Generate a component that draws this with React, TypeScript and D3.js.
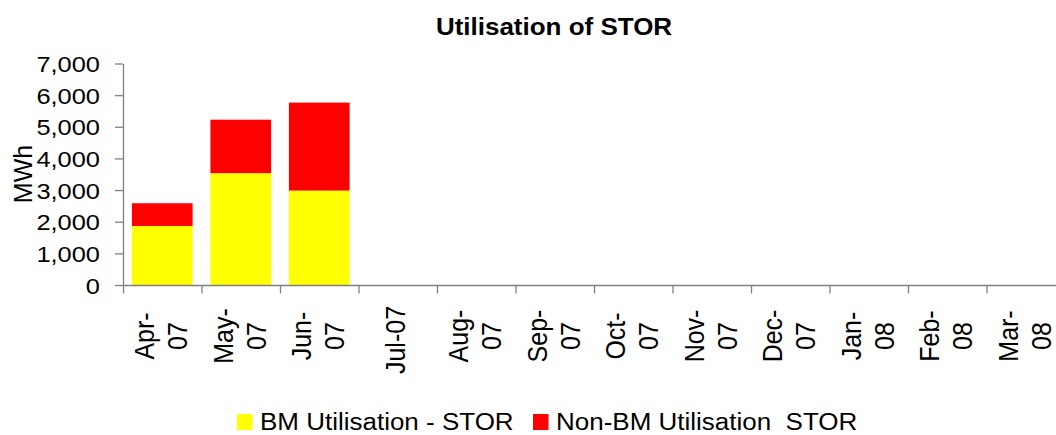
import React, { useRef, useEffect } from "react";
import * as d3 from "d3";

const months: string[][] = [
  ["Apr-", "07"], ["May-", "07"], ["Jun-", "07"], ["Jul-07"],
  ["Aug-", "07"], ["Sep-", "07"], ["Oct-", "07"], ["Nov-", "07"],
  ["Dec-", "07"], ["Jan-", "08"], ["Feb-", "08"], ["Mar-", "08"],
];
const bmUtilisation = [1880, 3550, 3000, 0, 0, 0, 0, 0, 0, 0, 0, 0];
const nonBmUtilisation = [720, 1690, 2780, 0, 0, 0, 0, 0, 0, 0, 0, 0];
const yTicks = [0, 1000, 2000, 3000, 4000, 5000, 6000, 7000];
const seriesNames = ["BM Utilisation - STOR", "Non-BM Utilisation  STOR"];
const seriesColors = ["#FFFF00", "#FF0000"];

const FONT = "'Liberation Sans', Arial, sans-serif";
const SX = 1.13; // source picture is a little stretched sideways

const App: React.FC = () => {
  const svgRef = useRef<SVGSVGElement | null>(null);

  useEffect(() => {
    const width = 1056;
    const height = 435;
    const left = 123;
    const right = 1065; // plot runs past the right edge
    const top = 64;
    const bottom = 285.5;

    const svg = d3.select(svgRef.current);
    svg.selectAll("*").remove();
    svg.attr("width", width).attr("height", height);

    const keys = months.map((m) => m.join(""));
    const rows = keys.map((k, i) => ({ key: k, bm: bmUtilisation[i], nonbm: nonBmUtilisation[i] }));

    const x = d3.scaleBand<string>()
      .domain(keys)
      .range([left, right])
      .paddingInner(0.227)
      .paddingOuter(0.1135);
    const gap = (x.step() - x.bandwidth()) / 2;

    const y = d3.scaleLinear().domain([0, 7000]).range([bottom, top]);

    const stack = d3.stack<any>().keys(["bm", "nonbm"]);
    const layers = stack(rows);

    // bars
    layers.forEach((layer, li) => {
      svg.append("g")
        .selectAll("rect")
        .data(layer)
        .join("rect")
        .attr("x", (d: any) => x(d.data.key)!)
        .attr("y", (d) => y(d[1]))
        .attr("width", x.bandwidth())
        .attr("height", (d) => Math.max(0, y(d[0]) - y(d[1])))
        .attr("fill", seriesColors[li]);
    });

    const axisColor = "#808080";

    // y axis
    const yAxis = svg.append("g");
    yAxis.append("line")
      .attr("x1", left + 0.5).attr("x2", left + 0.5)
      .attr("y1", y(7000)).attr("y2", y(0))
      .attr("stroke", axisColor).attr("stroke-width", 1.3);
    yTicks.forEach((t) => {
      yAxis.append("line")
        .attr("x1", left - 8).attr("x2", left)
        .attr("y1", y(t)).attr("y2", y(t))
        .attr("stroke", axisColor).attr("stroke-width", 1.3);
      yAxis.append("text")
        .attr("transform", `translate(100,${y(t) + 8}) scale(${SX},1)`)
        .attr("text-anchor", "end")
        .style("font-family", FONT)
        .style("font-size", "22.5px")
        .style("fill", "#000")
        .text(d3.format(",")(t));
    });

    // x axis
    const xAxis = svg.append("g");
    xAxis.append("line")
      .attr("x1", left).attr("x2", width)
      .attr("y1", y(0)).attr("y2", y(0))
      .attr("stroke", axisColor).attr("stroke-width", 1.3);
    keys.forEach((k, i) => {
      const x0 = x(k)! - gap;
      xAxis.append("line")
        .attr("x1", x0 + 0.5).attr("x2", x0 + 0.5)
        .attr("y1", y(0)).attr("y2", y(0) + 8)
        .attr("stroke", axisColor).attr("stroke-width", 1.3);
      const cx = x(k)! + x.bandwidth() / 2;
      const lines = months[i];
      const offs = lines.length === 1 ? [7] : [-8, 25];
      lines.forEach((ln, j) => {
        xAxis.append("text")
          .attr("transform", `translate(${cx + offs[j]},${lines.length === 1 ? 340 : 336}) scale(${SX},1) rotate(-90)`)
          .attr("text-anchor", "middle")
          .style("font-family", FONT)
          .style("font-size", "25px")
          .style("fill", "#000")
          .text(ln);
      });
    });

    // y title
    svg.append("text")
      .attr("transform", `translate(32,174) scale(1.05,1) rotate(-90)`)
      .attr("text-anchor", "middle")
      .style("font-family", FONT)
      .style("font-size", "25px")
      .style("fill", "#000")
      .text("MWh");

    // chart title
    svg.append("text")
      .attr("transform", `translate(554,35) scale(${SX},1)`)
      .attr("text-anchor", "middle")
      .style("font-family", FONT)
      .style("font-size", "23px")
      .style("font-weight", "bold")
      .style("fill", "#000")
      .text("Utilisation of STOR");

    // legend
    const legendX = [237, 533];
    const legend = svg.append("g");
    seriesNames.forEach((name, i) => {
      legend.append("rect")
        .attr("x", legendX[i]).attr("y", 414)
        .attr("width", 15.5).attr("height", 16)
        .attr("fill", seriesColors[i]);
      legend.append("text")
        .attr("transform", `translate(${legendX[i] + 23},430) scale(${SX},1)`)
        .style("font-family", FONT)
        .style("font-size", "23px")
        .style("white-space", "pre")
        .style("fill", "#000")
        .text(name);
    });
  }, []);

  return (
    <div style={{ position: "absolute", left: 0, top: 0, width: 1056, height: 435, background: "#fff" }}>
      <svg ref={svgRef} width={1056} height={435} style={{ display: "block" }} />
    </div>
  );
};

export default App;
